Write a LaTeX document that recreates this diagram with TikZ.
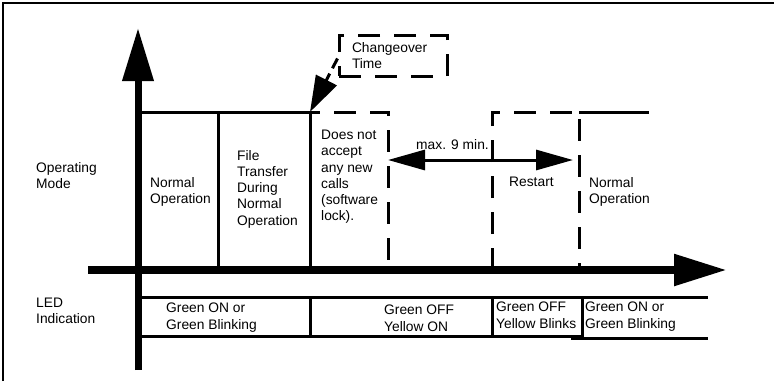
\documentclass[tikz,border=0pt]{standalone}
\usepackage{fontspec}
\setmainfont{Liberation Sans}
\usetikzlibrary{arrows.meta}

\begin{document}
\begin{tikzpicture}[x=1pt,y=-1pt]
\tikzstyle{txt}= [anchor=north west,inner sep=0pt,align=left,font=\fontsize{13.8}{16.2}\selectfont]
\tikzstyle{axis}= [-{Triangle[length=53pt,width=30pt]}]
\tikzstyle{bar}= [line width=3pt]
\tikzstyle{dsh}= [line width=3pt,dash pattern=on 22pt off 14pt]

\useasboundingbox (0,0) rectangle (774,381);
\draw[line width=2pt] (3,381) -- (3,3) -- (774,3);

% axes
\path
	(138,370) coordinate (yb)
	(138, 28) coordinate (yt)
	( 88,270) coordinate (xb)
	(727,270) coordinate (xt)
;
\draw[axis,line width=7pt] (yb) -- (yt);
\draw[axis,line width=8.5pt] (xb) -- (xt);

% operating mode
\path
	(310,112) coordinate (co)
	(388,160) coordinate (ml)
	(573,160) coordinate (mr)
;
\draw[bar] (138,112) -- (co);
\draw[bar] (218,112) -- (218,270);
\draw[bar] (co) -- (310,270);
\draw[dsh,dash phase=12pt] (co) -- (388,112) -- (388,270);
\draw[dsh] (492,270) -- (492,112) -- (579,112) -- (579,270);
\draw[bar] (579,112) -- (649,112);

\node[txt] (opm) at (36,162) {Operating\\Mode};
\node[txt] (na) at (150,177) {Normal\\Operation};
\node[txt] (ft) at (237,150) {File\\Transfer\\During\\Normal\\Operation};
\node[txt] (lk) at (321,130) {Does not\\accept\\any new\\calls\\(software\\lock).};
\node[txt] (rs) at (509,177) {Restart};
\node[txt] (nb) at (589,177) {Normal\\Operation};

% changeover
\node[draw,dsh,rectangle,minimum width=108pt,minimum height=41pt,
	inner xsep=13pt,text width=82pt,align=left,
	font=\fontsize{13.8}{16.2}\selectfont] (chg) at (393,55.5) {Changeover\\Time};
\draw[line width=3pt,dash pattern=on 11pt off 6pt,-{Triangle[length=36pt,width=23pt]}]
	([yshift=-3pt]chg.west) -- (co);

% max. time
\draw[line width=3pt,{Triangle[length=37pt,width=20pt]}-{Triangle[length=37pt,width=20pt]}] (ml) -- (mr);
\node[txt] (mx) at (416,139) {max. 9 min.};

% LED indication
\draw[bar] (138,297) -- (708,297);
\draw[bar] (138,336) -- (582,336);
\draw[bar] (571,338) -- (708,338);
\draw[bar] (310,297) -- (310,336);
\draw[bar] (492,297) -- (492,336);
\draw[bar] (582,297) -- (582,338);

\node[txt] (led) at (36,298) {LED\\Indication};
\node[txt] (la) at (166,303) {Green ON or\\Green Blinking};
\node[txt] (lb) at (384,305) {Green OFF\\Yellow ON};
\node[txt] (lc) at (496,302) {Green OFF\\Yellow Blinks};
\node[txt] (ld) at (585,302) {Green ON or\\Green Blinking};
\end{tikzpicture}
\end{document}
